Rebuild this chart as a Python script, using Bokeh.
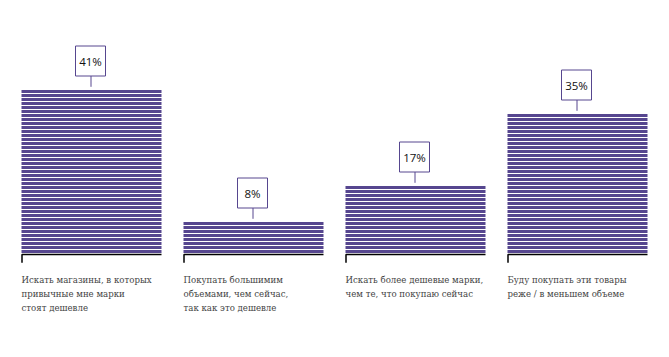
from bokeh.plotting import figure
from bokeh.models import Range1d
from bokeh.embed import file_html
from bokeh.resources import INLINE
from bokeh.core.properties import value

categories = [
    "Искать магазины, в которых\nпривычные мне марки\nстоят дешевле",
    "Покупать большимим\nобъемами, чем сейчас,\nтак как это дешевле",
    "Искать более дешевые марки,\nчем те, что покупаю сейчас",
    "Буду покупать эти товары\nреже / в меньшем объеме",
]
values = [41, 8, 17, 35]
labels = ["41%", "8%", "17%", "35%"]

PURPLE = "#56468f"
W, H = 669, 357
px_x = 162.0   # pixels per category slot
px_y = 4.0     # pixels per percent
base_px = 253.5

p = figure(width=W, height=H, output_backend="svg", toolbar_location=None,
           x_range=Range1d(-91.0 / px_x, (W - 91.0) / px_x),
           y_range=Range1d(-(H - base_px) / px_y, base_px / px_y),
           min_border=0, outline_line_color=None)
p.axis.visible = False
p.grid.visible = False
p.background_fill_color = "white"
p.border_fill_color = "white"

bw = 140.0 / px_x

# striped bars: one stripe per percent point
l, r, b, t = [], [], [], []
for i, v in enumerate(values):
    for k in range(v):
        l.append(i - bw / 2)
        r.append(i + bw / 2)
        b.append(k + 0.25)
        t.append(k + 1.0)
p.quad(left=l, right=r, bottom=b, top=t, fill_color=PURPLE, line_color=None)

# baselines with left tick
xs, ys = [], []
for i, v in enumerate(values):
    xs.append([i - bw / 2 + 0.5 / px_x, i - bw / 2 + 0.5 / px_x, i + bw / 2])
    ys.append([-2.2, -0.1, -0.1])
p.multi_line(xs=xs, ys=ys, line_color="black", line_width=1.5)

# connectors
idx = list(range(len(values)))
p.segment(x0=[i - 0.5 / px_x for i in idx], x1=[i - 0.5 / px_x for i in idx],
          y0=[v + 0.8 for v in values], y1=[v + 3.5 for v in values],
          line_color=PURPLE, line_width=1)

# label boxes
p.rect(x=[i - 1 / px_x for i in idx], y=[v + 7.25 for v in values],
       width=30, height=30, width_units="screen", height_units="screen",
       fill_color="white", line_color=PURPLE, line_width=1)
p.text(x=[i - 1 / px_x for i in idx], y=[v + 7.25 for v in values], text=labels,
       text_align="center", text_baseline="middle", text_font=value("Open Sans"),
       text_font_size="11.5px", text_color="#111111")

# category labels
p.text(x=[i - bw / 2 for i in idx], y=[-(274 - base_px) / px_y] * len(idx),
       text=categories, text_align="left", text_baseline="top",
       text_font=value("DejaVu Serif"), text_font_size="8.6px",
       text_line_height=1.4, text_color="#444444")

open("out.html", "w").write(file_html(p, INLINE))
